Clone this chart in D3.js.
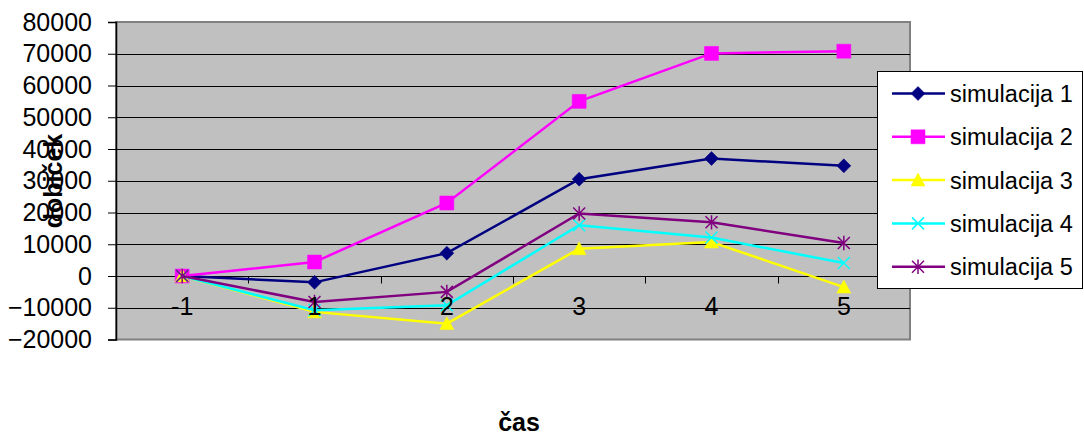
<!DOCTYPE html>
<html>
<head>
<meta charset="utf-8">
<script src="https://cdn.jsdelivr.net/npm/d3@7"></script>
<style>
  body { margin: 0; background: #fff; }
  svg { display: block; font-family: Arial, "Liberation Sans", sans-serif; }
</style>
</head>
<body>
<div id="chart"></div>
<script>
const categories = ["-1", "1", "2", "3", "4", "5"];
const sim1 = [0, -2000, 7200, 30500, 37000, 34700];
const sim2 = [0, 4400, 23000, 55000, 70100, 70800];
const sim3 = [0, -11300, -15000, 8600, 10700, -3500];
const sim4 = [0, -10800, -9200, 16000, 12100, 4100];
const sim5 = [0, -8200, -5000, 19700, 16900, 10400];
const seriesNames = ["simulacija 1", "simulacija 2", "simulacija 3", "simulacija 4", "simulacija 5"];
const yTicks = [-20000, -10000, 0, 10000, 20000, 30000, 40000, 50000, 60000, 70000, 80000];

const width = 1084;
const height = 437;
const plot = { left: 116, right: 910, top: 22, bottom: 339.5 };

const colors = ["#000080", "#FF00FF", "#FFFF00", "#00FFFF", "#800080"];
const markers = ["diamond", "square", "triangle", "cross", "star"];
const seriesData = [sim1, sim2, sim3, sim4, sim5];

const svg = d3.select("#chart")
    .append("svg")
    .attr("width", width)
    .attr("height", height);

const xBand = d3.scaleBand()
    .domain(categories)
    .range([plot.left, plot.right]);
const xPos = c => xBand(c) + xBand.bandwidth() / 2;

const yScale = d3.scaleLinear()
    .domain([-20000, 80000])
    .range([plot.bottom, plot.top]);

// gray plot area
svg.append("rect")
    .attr("x", plot.left)
    .attr("y", plot.top)
    .attr("width", plot.right - plot.left)
    .attr("height", plot.bottom - plot.top)
    .attr("fill", "#C0C0C0")
    .attr("stroke", "#808080")
    .attr("stroke-width", 2);

// gridlines
svg.append("g")
    .selectAll("line")
    .data(yTicks.filter(d => d !== -20000 && d !== 80000))
    .join("line")
    .attr("x1", plot.left)
    .attr("x2", plot.right)
    .attr("y1", d => Math.round(yScale(d)) + 0.5)
    .attr("y2", d => Math.round(yScale(d)) + 0.5)
    .attr("stroke", "#000")
    .attr("stroke-width", 1);

// y axis
const yAxis = svg.append("g")
    .attr("transform", `translate(${plot.left},0)`)
    .call(d3.axisLeft(yScale).tickValues(yTicks).tickSize(8).tickPadding(16).tickFormat(d3.format("d")));
yAxis.select(".domain").attr("stroke", "#000").attr("stroke-width", 1.5);
yAxis.selectAll(".tick line").attr("stroke", "#000");
yAxis.selectAll("text")
    .style("font-size", "25px")
    .style("font-family", "Arial, 'Liberation Sans', sans-serif")
    .attr("fill", "#000");

// x axis at zero
const y0 = Math.round(yScale(0)) + 0.5;
svg.append("line")
    .attr("x1", plot.left)
    .attr("x2", plot.right)
    .attr("y1", y0)
    .attr("y2", y0)
    .attr("stroke", "#000")
    .attr("stroke-width", 1);

svg.append("g")
    .selectAll("line")
    .data(categories.slice(1))
    .join("line")
    .attr("x1", d => Math.round(xBand(d)) + 0.5)
    .attr("x2", d => Math.round(xBand(d)) + 0.5)
    .attr("y1", y0)
    .attr("y2", y0 + 7)
    .attr("stroke", "#000");

// axis titles
svg.append("text")
    .attr("transform", "rotate(-90)")
    .attr("x", -181)
    .attr("y", 62)
    .attr("text-anchor", "middle")
    .style("font-size", "25px")
    .style("font-weight", "bold")
    .text("dobiček");

svg.append("text")
    .attr("x", 519)
    .attr("y", 431)
    .attr("text-anchor", "middle")
    .style("font-size", "25px")
    .style("font-weight", "bold")
    .text("čas");

// marker shapes
function markerPath(type, s) {
    const h = s / 2;
    if (type === "diamond") return `M0,${-h}L${h},0L0,${h}L${-h},0Z`;
    if (type === "square") return `M${-h},${-h}H${h}V${h}H${-h}Z`;
    if (type === "triangle") return `M0,${-h}L${h},${h * 0.85}L${-h},${h * 0.85}Z`;
    if (type === "cross") return `M${-h},${-h}L${h},${h}M${h},${-h}L${-h},${h}`;
    return `M${-h},${-h}L${h},${h}M${h},${-h}L${-h},${h}M0,${-h * 1.2}V${h * 1.2}`;
}
function drawMarker(g, type, color) {
    const open = type === "cross" || type === "star";
    g.append("path")
        .attr("d", markerPath(type, open ? 12 : 14))
        .attr("fill", open ? "none" : color)
        .attr("stroke", color)
        .attr("stroke-width", open ? 1.5 : 0.5);
}

const line = d3.line()
    .x(d => xPos(d.cat))
    .y(d => yScale(d.value));

seriesData.forEach((vals, i) => {
    const pts = vals.map((v, j) => ({ cat: categories[j], value: v }));
    const g = svg.append("g");
    g.append("path")
        .datum(pts)
        .attr("d", line)
        .attr("fill", "none")
        .attr("stroke", colors[i])
        .attr("stroke-width", 2.5);
    pts.forEach(p => {
        const m = g.append("g")
            .attr("transform", `translate(${xPos(p.cat)},${yScale(p.value)})`);
        drawMarker(m, markers[i], colors[i]);
    });
});

// category labels sit on top of the lines
const xAxis = svg.append("g")
    .attr("transform", `translate(0,${y0})`)
    .call(d3.axisBottom(xBand).tickSize(0).tickPadding(21));
xAxis.select(".domain").remove();
xAxis.selectAll("text")
    .style("font-size", "25px")
    .style("font-family", "Arial, 'Liberation Sans', sans-serif")
    .attr("fill", "#000");

// legend
const legend = svg.append("g")
    .attr("transform", "translate(877,71)");
legend.append("rect")
    .attr("x", 0.5)
    .attr("y", 0.5)
    .attr("width", 205)
    .attr("height", 217)
    .attr("fill", "#fff")
    .attr("stroke", "#000")
    .attr("stroke-width", 1);
const items = legend.selectAll(".legend-item")
    .data(seriesNames)
    .join("g")
    .attr("class", "legend-item")
    .attr("transform", (d, i) => `translate(0,${22.5 + i * 43.3})`);
items.append("line")
    .attr("x1", 15)
    .attr("x2", 68)
    .attr("stroke", (d, i) => colors[i])
    .attr("stroke-width", 2.5);
items.each(function(d, i) {
    const m = d3.select(this).append("g").attr("transform", "translate(41,0)");
    drawMarker(m, markers[i], colors[i]);
});
items.append("text")
    .attr("x", 73)
    .attr("y", 8.5)
    .style("font-size", "23.5px")
    .text(d => d);
</script>
</body>
</html>
